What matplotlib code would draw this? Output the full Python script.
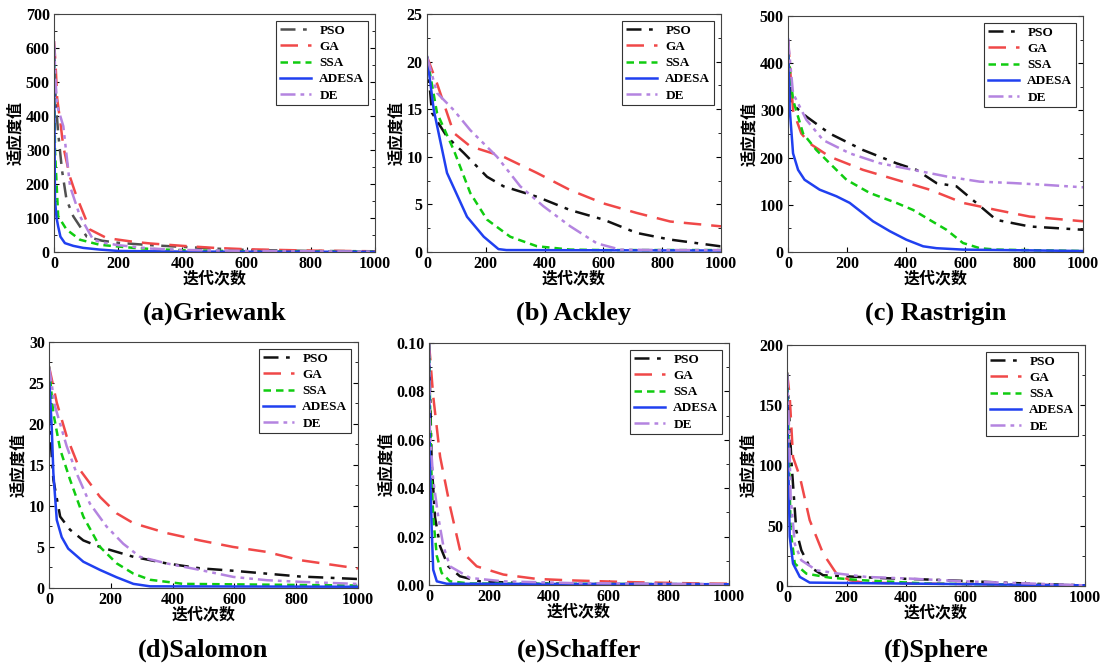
import matplotlib.pyplot as plt
from matplotlib.ticker import AutoMinorLocator

plt.rcParams['font.family'] = ['Liberation Serif', 'Noto Sans CJK SC']

algos = ['PSO', 'GA', 'SSA', 'ADESA', 'DE']
colors = {'PSO': '#111111', 'GA': '#f04848', 'SSA': '#10cc10', 'ADESA': '#2040f0', 'DE': '#b484e0'}
styles = {'PSO': (0, (6, 3, 1.5, 3)), 'GA': (0, (7, 4)), 'SSA': (0, (3, 2)),
          'ADESA': '-', 'DE': (0, (6, 2, 1.5, 2, 1.5, 2))}

# (a) Griewank
griewank = {
    'PSO': ([0, 5, 13, 25, 39, 60, 102, 150, 200, 300, 400, 500, 600, 800, 1000],
            [600, 450, 350, 240, 154, 105, 45, 33, 27, 20, 15, 10, 6, 3, 2]),
    'GA': ([0, 5, 10, 20, 29, 50, 70, 112, 164, 247, 300, 400, 500, 600, 800, 1000],
           [620, 550, 450, 380, 310, 220, 164, 66, 41, 30, 25, 18, 12, 8, 4, 2]),
    'SSA': ([0, 3, 13, 39, 81, 143, 247, 300, 400, 600, 1000],
            [600, 300, 105, 66, 36, 21, 12, 9, 5, 2, 1]),
    'ADESA': ([0, 1, 3, 8, 13, 20, 34, 60, 91, 143, 200, 400, 1000],
              [600, 450, 154, 100, 75, 45, 26, 18, 12, 7, 3, 1, 0.5]),
    'DE': ([0, 5, 10, 29, 50, 81, 122, 150, 200, 300, 400, 600, 1000],
           [620, 500, 430, 370, 193, 105, 36, 28, 20, 10, 6, 3, 1]),
}

# (b) Ackley
ackley = {
    'PSO': ([0, 17, 68, 125, 204, 260, 374, 487, 600, 713, 827, 997, 1000],
            [20.5, 14.6, 12.1, 10.4, 7.9, 6.9, 5.8, 4.4, 3.4, 2.0, 1.3, 0.6, 0.6]),
    'GA': ([0, 34, 91, 147, 260, 374, 487, 600, 713, 827, 997, 1000],
           [20.5, 17.7, 12.5, 11.1, 10.0, 8.3, 6.5, 5.1, 4.1, 3.2, 2.7, 2.7]),
    'SSA': ([0, 34, 91, 147, 204, 283, 374, 487, 600, 1000],
            [20.5, 14.6, 10.7, 6.2, 3.4, 1.6, 0.6, 0.25, 0.2, 0.2]),
    'ADESA': ([0, 23, 68, 136, 193, 243, 270, 1000],
              [20.5, 14.9, 8.3, 3.7, 1.6, 0.3, 0.2, 0.15]),
    'DE': ([0, 34, 91, 147, 238, 317, 396, 487, 578, 657, 800, 1000],
           [20.5, 16.7, 14.9, 12.8, 10.0, 6.9, 4.8, 2.7, 0.9, 0.25, 0.2, 0.2]),
}

# (c) Rastrigin
rastrigin = {
    'PSO': ([0, 11, 62, 141, 254, 367, 435, 503, 571, 638, 706, 819, 1000],
            [420, 315, 287, 251, 216, 188, 174, 146, 139, 104, 68, 54, 47]),
    'GA': ([0, 17, 45, 73, 141, 254, 367, 480, 593, 706, 819, 1000],
           [450, 300, 251, 230, 202, 174, 153, 132, 104, 89, 75, 65]),
    'SSA': ([0, 17, 51, 96, 141, 198, 277, 367, 424, 480, 537, 593, 650, 706, 1000],
            [420, 322, 251, 216, 188, 153, 125, 104, 89, 68, 47, 19, 8, 5, 2]),
    'ADESA': ([0, 6, 17, 34, 56, 107, 164, 209, 254, 288, 345, 401, 458, 503, 593, 1000],
              [450, 300, 209, 174, 153, 132, 118, 104, 82, 65, 44, 26, 12, 8, 5, 2]),
    'DE': ([0, 17, 62, 119, 209, 311, 424, 537, 650, 763, 876, 1000],
           [450, 336, 280, 237, 209, 188, 174, 160, 149, 146, 142, 137]),
}

# (d) Salomon
salomon = {
    'PSO': ([0, 3, 14, 36, 68, 111, 165, 273, 380, 488, 596, 704, 811, 995, 1000],
            [26, 19.3, 13.2, 8.7, 7.1, 5.8, 5.0, 3.8, 3.0, 2.4, 2.1, 1.75, 1.4, 1.1, 1.1]),
    'GA': ([0, 25, 57, 100, 165, 219, 273, 380, 488, 596, 704, 811, 995, 1000],
           [27, 22.6, 18.5, 14.4, 11.1, 9.1, 7.9, 6.7, 5.8, 5.0, 4.4, 3.4, 2.4, 2.4]),
    'SSA': ([0, 14, 36, 68, 111, 165, 219, 273, 327, 434, 1000],
            [27, 21.3, 16.9, 13.2, 8.7, 5.0, 3.0, 1.75, 1.0, 0.5, 0.3]),
    'ADESA': ([0, 9, 14, 25, 41, 62, 111, 165, 219, 273, 327, 1000],
              [26, 19.3, 14, 8.3, 6.2, 4.8, 3.2, 2.2, 1.3, 0.5, 0.2, 0.15]),
    'DE': ([0, 19, 57, 89, 132, 186, 240, 294, 380, 488, 596, 704, 811, 995, 1000],
           [27, 22.2, 17.3, 14.0, 10.3, 7.5, 5.4, 3.8, 3.0, 2.2, 1.35, 0.95, 0.75, 0.5, 0.5]),
}

# (e) Schaffer
schaffer = {
    'PSO': ([0, 9, 20, 37, 64, 103, 170, 303, 470, 1000],
            [0.1, 0.05, 0.028, 0.016, 0.0077, 0.0036, 0.0015, 0.0008, 0.0004, 0.0002]),
    'GA': ([0, 14, 37, 70, 103, 159, 248, 359, 470, 692, 914, 1000],
           [0.1, 0.078, 0.053, 0.0325, 0.0146, 0.0077, 0.0043, 0.0025, 0.0019, 0.0011, 0.0006, 0.0005]),
    'SSA': ([0, 7, 14, 26, 42, 70, 137, 1000],
            [0.1, 0.05, 0.028, 0.012, 0.005, 0.0015, 0.0006, 0.0003]),
    'ADESA': ([0, 3, 9, 14, 26, 59, 1000],
              [0.1, 0.05, 0.023, 0.0063, 0.0015, 0.0005, 0.0003]),
    'DE': ([0, 3, 14, 31, 48, 70, 137, 248, 470, 1000],
           [0.1, 0.064, 0.0435, 0.028, 0.016, 0.0077, 0.0029, 0.0015, 0.0008, 0.0003]),
}

# (f) Sphere
sphere = {
    'PSO': ([0, 15, 31, 48, 76, 121, 199, 311, 479, 591, 703, 815, 1000],
            [177, 102, 46, 29.6, 15.8, 8.9, 8.0, 6.6, 5.3, 4.2, 3.0, 1.9, 0.5]),
    'GA': ([0, 9, 20, 43, 76, 121, 166, 211, 255, 479, 1000],
           [177, 157, 107, 90.6, 54.6, 26.9, 10.2, 4.7, 2.8, 1.9, 0.5]),
    'SSA': ([0, 7, 12, 26, 65, 143, 255, 367, 479, 1000],
            [177, 102, 46, 18.6, 10.2, 6.9, 4.7, 3.3, 1.9, 0.5]),
    'ADESA': ([0, 4, 9, 20, 43, 76, 1000],
              [175, 102, 41, 18.6, 7.5, 2.8, 0.5]),
    'DE': ([0, 7, 12, 26, 48, 99, 174, 267, 414, 591, 759, 1000],
           [177, 129, 74, 35, 21.3, 13, 10.2, 7.5, 6.1, 3.9, 2.5, 0.5]),
}

panels = [
    (griewank, '(a)Griewank', 700, 100, [0.049, 0.6228, 0.2913, 0.3563], 313),
    (ackley, '(b) Ackley', 25, 5, [0.3875, 0.6228, 0.2668, 0.3563], 313),
    (rastrigin, '(c) Rastrigin', 500, 100, [0.7151, 0.6228, 0.2677, 0.3533], 313),
    (salomon, '(d)Salomon', 30, 5, [0.0445, 0.1198, 0.2804, 0.3683], 650),
    (schaffer, '(e)Schaffer', 0.1, 0.02, [0.3893, 0.1243, 0.2722, 0.3623], 650),
    (sphere, '(f)Sphere', 200, 50, [0.7142, 0.1228, 0.2704, 0.3608], 650),
]

fig = plt.figure(figsize=(11.02, 6.68), dpi=100)

for data, title, ymax, ystep, rect, ty in panels:
    ax = fig.add_axes(rect)
    for name in algos:
        xs, ys = data[name]
        c = colors[name]
        if data is griewank and name == 'PSO':
            c = '#505050'
        ax.plot(xs, ys, color=c, linestyle=styles[name], linewidth=1.8, label=name)
    ax.set_xlim(0, 1000)
    ax.set_ylim(0, ymax)
    ax.set_xticks(range(0, 1001, 200))
    ticks = [i * ystep for i in range(int(round(ymax / ystep)) + 1)]
    ax.set_yticks(ticks)
    if ymax < 1:
        ax.set_yticklabels(['%.2f' % t for t in ticks])
    ax.yaxis.set_minor_locator(AutoMinorLocator(2))
    ax.tick_params(direction='in', right=True, which='both', labelsize=11.5, pad=3)
    ax.tick_params(which='minor', length=2)
    for lab in ax.get_xticklabels() + ax.get_yticklabels():
        lab.set_fontweight('bold')
    for sp in ax.spines.values():
        sp.set_color('#444444')
        sp.set_linewidth(0.8)
    ax.set_xlabel('迭代次数', family=['Noto Sans CJK SC'], fontsize=11.5, fontweight='bold', labelpad=-1)
    ax.set_ylabel('适应度值', family=['Noto Sans CJK SC'], fontsize=11.5, fontweight='bold', labelpad=2)
    leg = ax.legend(loc='upper right', prop={'family': 'Liberation Serif', 'weight': 'bold', 'size': 9.5},
                    handlelength=2.4, labelspacing=0.3, borderaxespad=0.5, borderpad=0.3,
                    fancybox=False, framealpha=1, edgecolor='#333333', handletextpad=0.6)
    leg.get_frame().set_linewidth(0.8)
    cx = rect[0] + rect[2] / 2
    fig.text(cx, 1 - ty / 668, title, ha='center', va='center', fontsize=19, fontweight='bold',
             family='Liberation Serif')

fig.savefig('out.png', dpi=100)
